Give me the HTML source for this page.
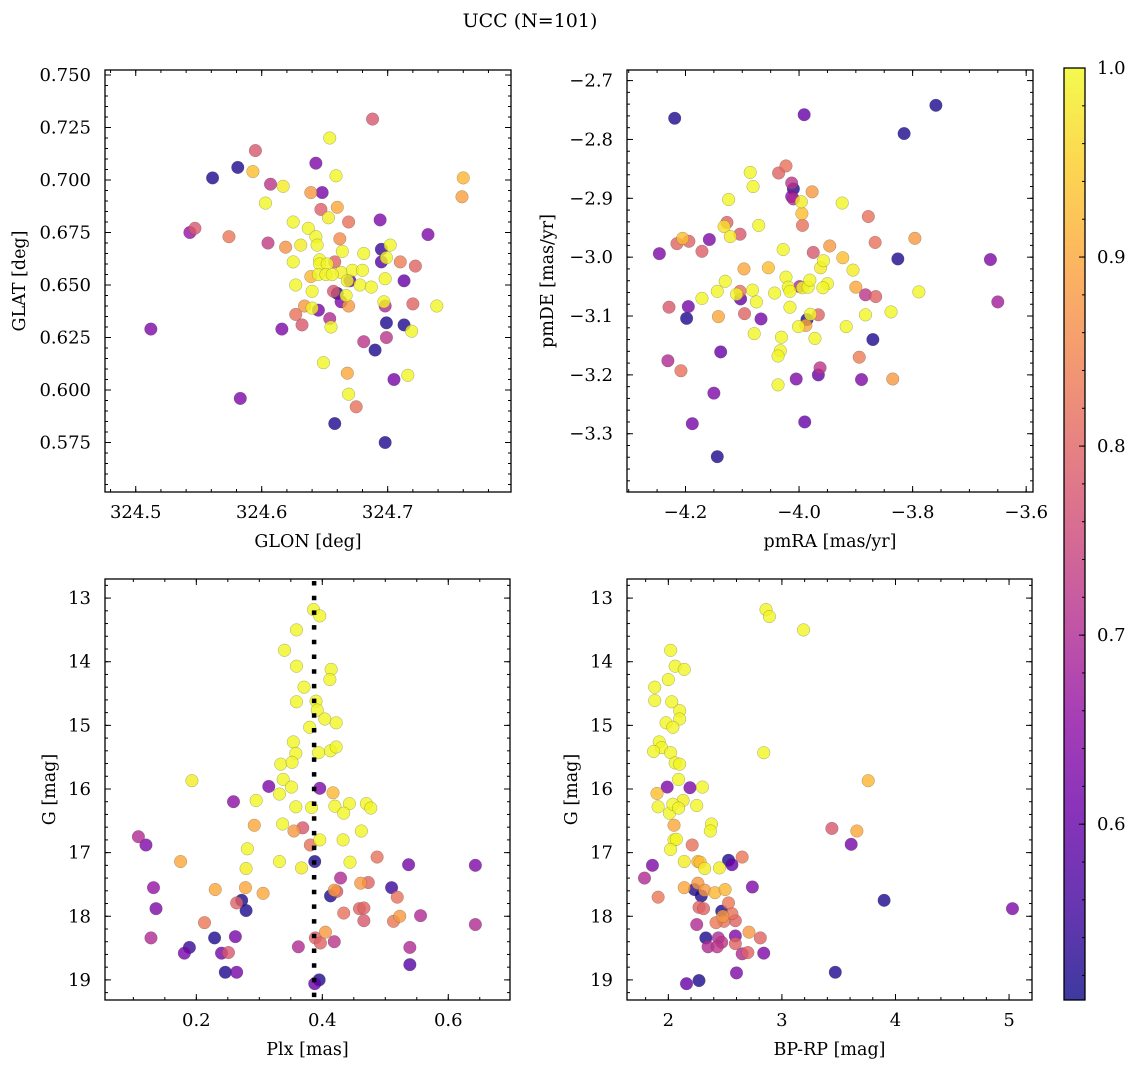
<!DOCTYPE html>
<html><head><meta charset="utf-8"><title>UCC (N=101)</title>
<style>
html,body{margin:0;padding:0;background:#fff;}
svg text{font-family:"DejaVu Serif","Liberation Serif",serif;fill:#000;}
</style></head>
<body>
<svg id="fig" xmlns="http://www.w3.org/2000/svg" width="1136" height="1067" viewBox="0 0 1136 1067">
<defs>
<linearGradient id="plasmaGrad" x1="0" y1="1" x2="0" y2="0">
<stop offset="0" stop-color="#0d0887"/><stop offset="0.1" stop-color="#41049d"/><stop offset="0.2" stop-color="#6a00a8"/><stop offset="0.3" stop-color="#8f0da4"/><stop offset="0.4" stop-color="#b12a90"/><stop offset="0.5" stop-color="#cc4778"/><stop offset="0.6" stop-color="#e16462"/><stop offset="0.7" stop-color="#f2844b"/><stop offset="0.8" stop-color="#fca636"/><stop offset="0.9" stop-color="#fcce25"/><stop offset="1" stop-color="#f0f921"/>
</linearGradient>
</defs>
<text x="530" y="27" font-size="19" text-anchor="middle">UCC (N=101)</text>
<g id="layer"></g>
</svg>
<script>
// ---------- data ----------
const p1Glon = [324.688,324.654,324.595,324.581,324.643,324.561,324.593,324.659,324.760,324.759,324.607,324.617,324.639,324.648,324.603,324.647,324.660,324.653,324.669,324.694,324.543,324.547,324.574,324.732,324.605,324.625,324.637,324.643,324.644,324.631,324.619,324.662,324.664,324.681,324.695,324.702,324.699,324.695,324.710,324.722,324.625,324.646,324.646,324.652,324.658,324.645,324.651,324.656,324.663,324.672,324.680,324.639,324.668,324.670,324.627,324.640,324.657,324.660,324.663,324.667,324.669,324.678,324.687,324.698,324.713,324.697,324.698,324.720,324.739,324.634,324.640,324.645,324.627,324.632,324.616,324.654,324.655,324.699,324.713,324.719,324.681,324.699,324.690,324.512,324.649,324.668,324.716,324.705,324.669,324.675,324.583,324.658,324.698];
const p1Glat = [0.729,0.720,0.714,0.706,0.708,0.701,0.704,0.702,0.701,0.692,0.698,0.697,0.694,0.694,0.689,0.686,0.687,0.682,0.680,0.681,0.675,0.677,0.673,0.674,0.670,0.680,0.677,0.673,0.669,0.669,0.668,0.672,0.666,0.665,0.667,0.669,0.663,0.661,0.661,0.659,0.661,0.662,0.660,0.660,0.661,0.655,0.655,0.655,0.656,0.657,0.657,0.654,0.652,0.652,0.650,0.647,0.647,0.646,0.642,0.645,0.640,0.650,0.649,0.653,0.652,0.642,0.640,0.641,0.640,0.640,0.639,0.638,0.636,0.631,0.629,0.634,0.630,0.632,0.631,0.628,0.623,0.625,0.619,0.629,0.613,0.608,0.607,0.605,0.598,0.592,0.596,0.584,0.575];
const p1Prob = [0.78,0.995,0.78,0.52,0.63,0.52,0.93,0.995,0.92,0.89,0.72,0.985,0.88,0.62,0.995,0.79,0.90,0.985,0.82,0.63,0.66,0.78,0.83,0.63,0.73,0.995,0.995,0.995,0.995,0.985,0.87,0.86,0.995,0.995,0.55,0.995,0.995,0.58,0.84,0.80,0.995,0.995,0.995,0.995,0.80,0.995,0.995,0.995,0.99,0.995,0.995,0.92,0.995,0.60,0.995,0.995,0.78,0.52,0.63,0.995,0.88,0.995,0.995,0.995,0.60,0.995,0.70,0.80,0.995,0.88,0.995,0.62,0.82,0.78,0.63,0.70,0.995,0.52,0.52,0.995,0.72,0.72,0.52,0.63,0.995,0.90,0.995,0.62,0.995,0.82,0.63,0.52,0.52];

const p2PmRA = [-4.219,-3.991,-3.759,-3.815,-4.086,-4.036,-4.023,-4.013,-4.010,-4.013,-4.010,-3.977,-4.081,-4.124,-3.996,-3.995,-3.994,-3.924,-3.878,-3.866,-3.796,-4.127,-4.132,-4.121,-4.104,-4.071,-4.205,-4.215,-4.194,-4.158,-4.171,-4.246,-4.028,-3.975,-3.946,-3.957,-3.962,-3.923,-3.905,-3.826,-3.663,-4.097,-4.054,-4.023,-4.019,-4.016,-3.999,-3.994,-3.984,-3.981,-3.950,-3.958,-4.130,-4.144,-4.171,-4.104,-4.103,-4.110,-4.082,-4.075,-4.043,-3.900,-3.883,-3.865,-3.789,-4.229,-4.195,-4.198,-4.142,-4.096,-4.067,-4.016,-3.986,-3.966,-3.980,-3.988,-4.001,-3.883,-3.838,-3.917,-4.079,-4.031,-3.972,-3.870,-4.231,-4.208,-4.138,-4.033,-4.037,-3.894,-3.963,-3.966,-4.005,-3.890,-3.835,-4.037,-4.150,-3.650,-4.188,-3.990,-4.144];
const p2PmDE = [-2.764,-2.758,-2.742,-2.790,-2.856,-2.857,-2.845,-2.874,-2.884,-2.897,-2.901,-2.889,-2.880,-2.902,-2.906,-2.926,-2.946,-2.908,-2.931,-2.975,-2.968,-2.941,-2.948,-2.965,-2.961,-2.946,-2.968,-2.977,-2.973,-2.970,-2.990,-2.994,-2.987,-2.992,-2.981,-3.006,-3.018,-3.001,-3.022,-3.003,-3.004,-3.020,-3.018,-3.034,-3.051,-3.058,-3.050,-3.052,-3.051,-3.039,-3.045,-3.052,-3.041,-3.058,-3.070,-3.058,-3.071,-3.063,-3.056,-3.076,-3.061,-3.051,-3.064,-3.067,-3.059,-3.085,-3.084,-3.104,-3.101,-3.096,-3.105,-3.085,-3.106,-3.098,-3.097,-3.116,-3.118,-3.098,-3.093,-3.118,-3.130,-3.136,-3.138,-3.140,-3.176,-3.193,-3.161,-3.159,-3.168,-3.170,-3.188,-3.200,-3.207,-3.208,-3.207,-3.217,-3.231,-3.076,-3.283,-3.280,-3.339];
const p2Prob = [0.52,0.60,0.52,0.52,0.995,0.80,0.82,0.72,0.52,0.65,0.70,0.88,0.995,0.995,0.985,0.93,0.82,0.995,0.82,0.82,0.88,0.80,0.97,0.985,0.78,0.995,0.93,0.80,0.80,0.63,0.79,0.63,0.995,0.78,0.88,0.995,0.985,0.93,0.985,0.52,0.63,0.90,0.93,0.995,0.995,0.995,0.70,0.995,0.995,0.995,0.995,0.995,0.995,0.995,0.995,0.82,0.60,0.995,0.995,0.995,0.995,0.90,0.72,0.80,0.995,0.78,0.62,0.52,0.90,0.80,0.62,0.995,0.52,0.80,0.995,0.90,0.995,0.995,0.995,0.995,0.995,0.995,0.995,0.52,0.70,0.82,0.60,0.995,0.995,0.84,0.72,0.60,0.63,0.63,0.88,0.995,0.63,0.68,0.62,0.60,0.52];

const p3Plx = [0.386,0.396,0.359,0.340,0.359,0.414,0.412,0.371,0.359,0.390,0.392,0.404,0.422,0.380,0.354,0.358,0.394,0.413,0.422,0.334,0.352,0.193,0.338,0.351,0.315,0.396,0.259,0.295,0.332,0.358,0.383,0.417,0.420,0.443,0.434,0.470,0.477,0.292,0.337,0.355,0.369,0.396,0.433,0.462,0.108,0.120,0.281,0.381,0.175,0.332,0.367,0.388,0.444,0.487,0.537,0.643,0.279,0.132,0.230,0.278,0.306,0.429,0.419,0.423,0.413,0.461,0.473,0.510,0.519,0.272,0.264,0.279,0.136,0.213,0.434,0.459,0.466,0.466,0.513,0.523,0.556,0.643,0.128,0.229,0.262,0.405,0.389,0.397,0.419,0.362,0.189,0.181,0.240,0.251,0.539,0.539,0.246,0.264,0.395,0.388];
const p3G = [13.18,13.28,13.50,13.82,14.07,14.12,14.28,14.40,14.63,14.62,14.76,14.90,14.96,15.03,15.26,15.44,15.43,15.40,15.34,15.61,15.58,15.87,15.85,15.97,15.96,15.99,16.20,16.18,16.08,16.28,16.29,16.06,16.27,16.23,16.38,16.23,16.30,16.57,16.55,16.66,16.61,16.80,16.80,16.66,16.75,16.88,16.94,16.88,17.14,17.14,17.24,17.14,17.15,17.07,17.19,17.20,17.25,17.55,17.58,17.55,17.64,17.40,17.59,17.61,17.68,17.48,17.47,17.55,17.70,17.75,17.79,17.91,17.88,18.10,17.95,17.88,17.87,18.07,18.08,18.00,17.99,18.13,18.34,18.34,18.32,18.25,18.34,18.42,18.40,18.48,18.49,18.58,18.58,18.57,18.49,18.76,18.88,18.88,19.00,19.06];
const p3Prob = [0.995,0.995,0.995,0.995,0.995,0.995,0.995,0.995,0.995,0.995,0.995,0.995,0.995,0.995,0.995,0.995,0.995,0.995,0.995,0.995,0.995,0.985,0.995,0.995,0.63,0.63,0.65,0.995,0.995,0.995,0.995,0.92,0.995,0.995,0.995,0.995,0.995,0.90,0.995,0.88,0.78,0.995,0.995,0.995,0.70,0.63,0.995,0.82,0.90,0.995,0.985,0.52,0.995,0.82,0.62,0.63,0.985,0.66,0.90,0.90,0.90,0.70,0.88,0.78,0.52,0.88,0.80,0.55,0.82,0.52,0.80,0.52,0.63,0.83,0.82,0.80,0.80,0.78,0.83,0.88,0.70,0.70,0.70,0.52,0.62,0.88,0.80,0.80,0.72,0.70,0.55,0.62,0.62,0.78,0.70,0.58,0.52,0.62,0.52,0.60];
const plxMarker = [0.387];

const p4Color = [2.86,2.89,3.19,2.02,2.06,2.14,2.00,1.88,1.88,2.03,2.10,2.10,1.98,2.04,1.92,1.94,1.87,2.02,2.06,2.10,2.84,2.09,3.76,1.99,2.19,2.30,1.90,1.91,2.01,2.04,2.09,2.13,2.25,2.38,2.37,2.05,2.05,2.07,2.02,2.21,3.44,3.66,3.61,1.86,1.79,2.14,2.26,2.28,2.32,2.45,2.53,2.56,2.65,1.91,2.14,2.23,2.26,2.29,2.32,2.41,2.50,2.74,2.53,2.27,2.31,2.47,2.48,2.56,2.59,2.42,2.49,2.25,2.33,2.44,2.47,2.43,2.35,2.59,2.59,2.71,2.81,2.65,2.70,2.84,2.60,3.47,3.90,5.03,2.27,2.16];
const p4G = [13.18,13.29,13.50,13.82,14.07,14.12,14.28,14.40,14.61,14.63,14.77,14.90,14.96,15.03,15.26,15.35,15.41,15.43,15.59,15.61,15.43,15.85,15.87,15.97,15.98,15.97,16.07,16.28,16.38,16.24,16.30,16.18,16.26,16.55,16.66,16.57,16.80,16.79,16.95,16.88,16.62,16.66,16.87,17.20,17.40,17.14,17.14,17.15,17.25,17.24,17.12,17.19,17.07,17.70,17.55,17.58,17.48,17.68,17.59,17.63,17.58,17.54,17.79,17.86,17.88,17.92,18.00,17.96,18.07,18.10,18.08,18.13,18.34,18.34,18.41,18.48,18.48,18.31,18.43,18.25,18.34,18.59,18.57,18.58,18.89,18.88,17.75,17.88,19.01,19.06];
const p4Prob = [0.995,0.995,0.995,0.995,0.995,0.995,0.995,0.995,0.995,0.995,0.995,0.995,0.995,0.995,0.995,0.995,0.995,0.995,0.995,0.995,0.995,0.995,0.92,0.63,0.63,0.995,0.93,0.995,0.995,0.995,0.995,0.985,0.995,0.995,0.995,0.90,0.995,0.995,0.995,0.82,0.78,0.90,0.62,0.63,0.70,0.985,0.92,0.93,0.985,0.985,0.52,0.60,0.83,0.83,0.90,0.52,0.88,0.52,0.88,0.92,0.92,0.63,0.83,0.80,0.80,0.52,0.88,0.82,0.80,0.83,0.82,0.70,0.52,0.70,0.72,0.72,0.70,0.63,0.80,0.88,0.80,0.70,0.80,0.63,0.63,0.52,0.52,0.63,0.52,0.60];

const cbTicks = [0.6,0.7,0.8,0.9,1.0];
const cbMin = 0.507, cbMax = 1.0;

// ---------- helpers ----------
const NS = 'http://www.w3.org/2000/svg';
const layer = document.getElementById('layer');
function mk(tag, attrs, parent) {
  const e = document.createElementNS(NS, tag);
  for (const k in attrs) e.setAttribute(k, attrs[k]);
  (parent || layer).appendChild(e);
  return e;
}
const stops = [[13,8,135],[65,4,157],[106,0,168],[143,13,164],[177,42,144],[204,71,120],[225,100,98],[242,132,75],[252,166,54],[252,206,37],[240,249,33]];
function plasma(t) {
  t = Math.max(0, Math.min(1, t));
  const f = t * 10, i = Math.min(9, Math.floor(f)), r = f - i;
  const a = stops[i], b = stops[i + 1];
  return 'rgb(' + [0,1,2].map(k => Math.round(a[k] + (b[k] - a[k]) * r)).join(',') + ')';
}
function fmtNum(v, d) { const s = v.toFixed(d); return s.replace('-', '\u2212'); }

function makeAxes(cfg) {
  const g = mk('g', {});
  
  
  const sx = v => cfg.x0 + (v - cfg.xmin) / (cfg.xmax - cfg.xmin) * (cfg.x1 - cfg.x0);
  const sy = cfg.yInvert
    ? v => cfg.y0 + (v - cfg.ymin) / (cfg.ymax - cfg.ymin) * (cfg.y1 - cfg.y0)
    : v => cfg.y1 - (v - cfg.ymin) / (cfg.ymax - cfg.ymin) * (cfg.y1 - cfg.y0);
  const tk = mk('g', {stroke: '#000', 'stroke-width': 1}, g);
  
  
  const xs = Math.ceil((cfg.xmin) / cfg.xminor - 1e-6);
  for (let k = xs; k * cfg.xminor <= cfg.xmax + 1e-9; k++) {
    const X = sx(k * cfg.xminor);
    if (X < cfg.x0 + 0.5 || X > cfg.x1 - 0.5) continue;
    mk('line', {x1: X, x2: X, y1: cfg.y1, y2: cfg.y1 - 3}, tk);
    mk('line', {x1: X, x2: X, y1: cfg.y0, y2: cfg.y0 + 3}, tk);
  }
  const ys = Math.ceil((cfg.ymin) / cfg.yminor - 1e-6);
  for (let k = ys; k * cfg.yminor <= cfg.ymax + 1e-9; k++) {
    const Y = sy(k * cfg.yminor);
    if (Y < cfg.y0 + 0.5 || Y > cfg.y1 - 0.5) continue;
    mk('line', {x1: cfg.x0, x2: cfg.x0 + 3, y1: Y, y2: Y}, tk);
    mk('line', {x1: cfg.x1, x2: cfg.x1 - 3, y1: Y, y2: Y}, tk);
  }
  cfg.xticks.forEach(v => {
    const X = sx(v);
    mk('line', {x1: X, x2: X, y1: cfg.y1, y2: cfg.y1 - 6}, tk);
    mk('line', {x1: X, x2: X, y1: cfg.y0, y2: cfg.y0 + 6}, tk);
    const t = mk('text', {x: X, y: cfg.y1 + 26, 'font-size': 18, 'text-anchor': 'middle'}, g);
    
    
    t.textContent = fmtNum(v, cfg.xdec);
  });
  cfg.yticks.forEach(v => {
    const Y = sy(v);
    mk('line', {x1: cfg.x0, x2: cfg.x0 + 6, y1: Y, y2: Y}, tk);
    mk('line', {x1: cfg.x1, x2: cfg.x1 - 6, y1: Y, y2: Y}, tk);
    const t = mk('text', {x: cfg.x0 - 14, y: Y + 6, 'font-size': 18, 'text-anchor': 'end'}, g);
    
    
    t.textContent = fmtNum(v, cfg.ydec);
  });
  const xt = mk('text', {x: (cfg.x0 + cfg.x1) / 2, y: cfg.y1 + 55, 'font-size': 17.5, 'text-anchor': 'middle'}, g);
  
  
  xt.textContent = cfg.xlabel;
  const yt = mk('text', {x: 0, y: 0, 'font-size': 17.5, 'text-anchor': 'middle', transform: 'translate(' + cfg.ylx + ',' + ((cfg.y0 + cfg.y1) / 2) + ') rotate(-90)'}, g);
  
  
  yt.textContent = cfg.ylabel;
  return {g, sx, sy, cfg};
}
function frame(ax) {
  const c = ax.cfg;
  const r = mk('rect', {x: c.x0, y: c.y0, width: c.x1 - c.x0, height: c.y1 - c.y0, fill: 'none', stroke: '#000', 'stroke-width': 1.3}, ax.g);
  
  
}
function scatter(ax, xs, ys, ps) {
  const pts = mk('g', {}, ax.g);
  
  
  const idx = xs.map((_, i) => i).sort((a, b) => ps[a] - ps[b]);
  idx.forEach(i => {
    const t = (ps[i] - cbMin) / (cbMax - cbMin);
    const c = mk('circle', {cx: ax.sx(xs[i]), cy: ax.sy(ys[i]), r: 6.3, fill: plasma(t), 'fill-opacity': 0.8, stroke: '#444', 'stroke-opacity': 0.45, 'stroke-width': 0.5}, pts);
    
    
  });
}

// ---------- panels ----------
const ax1 = makeAxes({name: 'glon-glat-panel', x0: 105, x1: 511, y0: 70, y1: 492, xmin: 324.4756, xmax: 324.7979, ymin: 0.55143, ymax: 0.75238,
  xticks: [324.5, 324.6, 324.7], xminor: 0.02, xdec: 1, yticks: [0.575,0.6,0.625,0.65,0.675,0.7,0.725,0.75], yminor: 0.005, ydec: 3,
  xlabel: 'GLON [deg]', ylabel: 'GLAT [deg]', ylx: 25});
scatter(ax1, p1Glon, p1Glat, p1Prob); frame(ax1);

const ax2 = makeAxes({name: 'pm-panel', x0: 627, x1: 1033, y0: 70, y1: 492, xmin: -4.303, xmax: -3.588, ymin: -3.399, ymax: -2.682,
  xticks: [-4.2, -4.0, -3.8, -3.6], xminor: 0.05, xdec: 1, yticks: [-3.3,-3.2,-3.1,-3.0,-2.9,-2.8,-2.7], yminor: 0.02, ydec: 1,
  xlabel: 'pmRA [mas/yr]', ylabel: 'pmDE [mas/yr]', ylx: 553});
scatter(ax2, p2PmRA, p2PmDE, p2Prob); frame(ax2);

const ax3 = makeAxes({name: 'plx-g-panel', x0: 105, x1: 510, y0: 579, y1: 1000, xmin: 0.055, xmax: 0.698, ymin: 12.70, ymax: 19.316, yInvert: true,
  xticks: [0.2, 0.4, 0.6], xminor: 0.05, xdec: 1, yticks: [13,14,15,16,17,18,19], yminor: 0.2, ydec: 0,
  xlabel: 'Plx [mas]', ylabel: 'G [mag]', ylx: 55});
scatter(ax3, p3Plx, p3G, p3Prob);
plxMarker.forEach(v => {
  const l = mk('line', {x1: ax3.sx(v), x2: ax3.sx(v), y1: 581, y2: 1000, stroke: '#000', 'stroke-width': 4.5, 'stroke-dasharray': '4.5,10.2'}, ax3.g);
  
  
});
frame(ax3);

const ax4 = makeAxes({name: 'cmd-panel', x0: 627, x1: 1032, y0: 579, y1: 1000, xmin: 1.636, xmax: 5.202, ymin: 12.70, ymax: 19.316, yInvert: true,
  xticks: [2, 3, 4, 5], xminor: 0.2, xdec: 0, yticks: [13,14,15,16,17,18,19], yminor: 0.2, ydec: 0,
  xlabel: 'BP-RP [mag]', ylabel: 'G [mag]', ylx: 577});
scatter(ax4, p4Color, p4G, p4Prob); frame(ax4);

// ---------- colorbar ----------
const cb = mk('g', {});


const cbY0 = 68, cbY1 = 1000, cbX0 = 1064, cbX1 = 1085;
const cbY = v => cbY1 - (v - cbMin) / (cbMax - cbMin) * (cbY1 - cbY0);
mk('rect', {x: cbX0, y: cbY0, width: cbX1 - cbX0, height: cbY1 - cbY0, fill: 'url(#plasmaGrad)', 'fill-opacity': 0.8}, cb);
for (let k = Math.ceil(cbMin / 0.02); k * 0.02 <= cbMax + 1e-9; k++) {
  const Y = cbY(k * 0.02);
  mk('line', {x1: cbX1, x2: cbX1 - 3, y1: Y, y2: Y, stroke: '#000', 'stroke-width': 1}, cb);
}
cbTicks.forEach(v => {
  const Y = cbY(v);
  mk('line', {x1: cbX1, x2: cbX1 - 6, y1: Y, y2: Y, stroke: '#000', 'stroke-width': 1}, cb);
  const t = mk('text', {x: 1097, y: Y + 6, 'font-size': 18}, cb);
  
  
  t.textContent = v.toFixed(1);
});
mk('rect', {x: cbX0, y: cbY0, width: cbX1 - cbX0, height: cbY1 - cbY0, fill: 'none', stroke: '#000', 'stroke-width': 1.3}, cb);
</script>
</body></html>
